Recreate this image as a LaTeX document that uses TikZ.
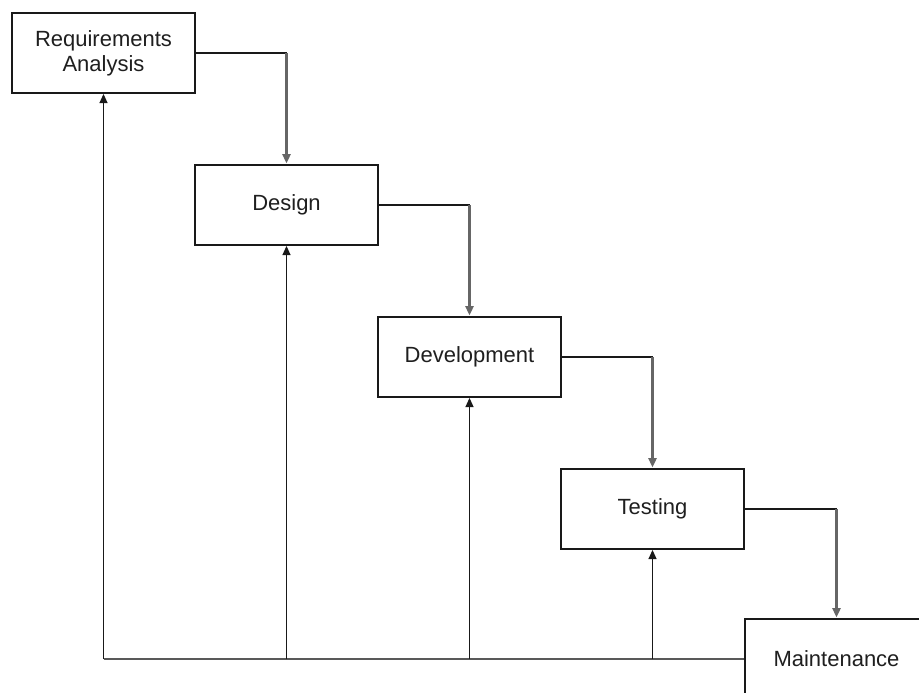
\documentclass[tikz,border=0pt]{standalone}
\usepackage{fontspec}
\setmainfont{Liberation Sans}
\usetikzlibrary{arrows.meta}
\begin{document}
\begin{tikzpicture}[x=0.75pt,y=-0.75pt,
  box/.style={draw=black!90, line width=1.3pt, fill=white, minimum width=137.25pt, minimum height=60pt,
    inner sep=0pt, align=center, text=black!88, font=\fontsize{16.5}{18.5}\selectfont},
  hline/.style={draw=black!90, line width=1.2pt},
  vline/.style={draw=black!60, line width=1.8pt, -{Triangle[length=7pt,width=6pt]}, shorten >=0.5pt},
  upline/.style={draw=black!90, line width=1.2pt, -{Triangle[length=7pt,width=6pt]}},
  fbline/.style={draw=black!65, line width=1.6pt}]
\useasboundingbox (0,0) rectangle (919,692);
\node[box] (req) at (103.5,53) {Requirements\\Analysis};
\node[box] (des) at (286.5,205) {Design};
\node[box] (dev) at (469.5,357) {Development};
\node[box] (tst) at (652.5,509) {Testing};
\node[box] (mai) at (836.5,659) {Maintenance};
% forward connectors
\coordinate (c1) at (req.east -| des.north);
\coordinate (c2) at (des.east -| dev.north);
\coordinate (c3) at (dev.east -| tst.north);
\coordinate (c4) at (tst.east -| mai.north);
\draw[hline] (req.east) -- (c1);
\draw[vline] (c1) -- (des.north);
\draw[hline] (des.east) -- (c2);
\draw[vline] (c2) -- (dev.north);
\draw[hline] (dev.east) -- (c3);
\draw[vline] (c3) -- (tst.north);
\draw[hline] (tst.east) -- (c4);
\draw[vline] (c4) -- (mai.north);
% feedback connectors
\coordinate (f1) at (mai.west -| req.south);
\coordinate (f2) at (mai.west -| des.south);
\coordinate (f3) at (mai.west -| dev.south);
\coordinate (f4) at (mai.west -| tst.south);
\draw[fbline] (mai.west) -- (f1);
\draw[upline] (f1) -- (req.south);
\draw[upline] (f2) -- (des.south);
\draw[upline] (f3) -- (dev.south);
\draw[upline] (f4) -- (tst.south);
\end{tikzpicture}
\end{document}
